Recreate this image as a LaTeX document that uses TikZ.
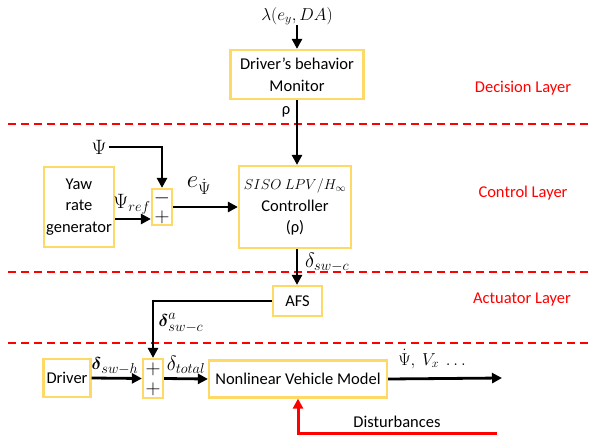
\documentclass[tikz,border=0pt]{standalone}
\usepackage{fontspec}
\setmainfont{Carlito}
\usepackage{amsmath}
\usetikzlibrary{arrows.meta}
\definecolor{boxy}{HTML}{FFD966}
\definecolor{lred}{HTML}{FF0000}
\newcommand{\fsz}{\fontsize{16.5}{21.5}\selectfont}
\newcommand{\msz}{\fontsize{19}{22}\selectfont}
\newcommand{\pmsz}{\fontsize{21}{22}\selectfont}
\tikzset{
  blk/.style={draw=boxy, line width=2.2pt, inner sep=0pt, align=center, font=\fsz},
  arr/.style={line width=2.8pt, -{Triangle[length=10pt,width=10pt]}},
  redarr/.style={draw=lred, line width=3pt, -{Triangle[length=10pt,width=10pt]}},
  layerline/.style={draw=lred, line width=1.3pt, dash pattern=on 8pt off 5pt},
  layertxt/.style={text=lred, font=\fsz},
  lbl/.style={font=\msz, inner sep=0pt},
  sgn/.style={font=\pmsz, inner sep=0pt},
}
\begin{document}
\begin{tikzpicture}[x=1pt,y=-1pt]
\useasboundingbox (0,0) rectangle (591,441);
% layer lines
\draw[layerline] (8,124) -- (591,124);
\draw[layerline] (8,272) -- (591,272);
\draw[layerline] (8,343) -- (591,343);
\node[layertxt] (ldec) at (523,88) {Decision Layer};
\node[layertxt] (lctl) at (523,193) {Control Layer};
\node[layertxt] (lact) at (522,300) {Actuator Layer};
% boxes
\node[blk, minimum width=112pt, minimum height=82pt] (ctrl) at (295,207) {{\fontsize{14.5}{18}\selectfont$SISO\ LPV/H_\infty$}\\Controller\\(ρ)};
\node[blk, minimum width=133pt, minimum height=49pt] (mon) at (297,74.5) {Driver’s behavior\\Monitor};
\node[blk, minimum width=70pt, minimum height=80pt] (yaw) at (79,207) {Yaw\\rate\\generator};
\node[blk, minimum width=20pt, minimum height=36pt] (sum1) at (162,207) {};
\node[sgn] (s1m) at (162,198) {$-$};
\node[sgn] (s1p) at (162,217) {$+$};
\node[blk, minimum width=49pt, minimum height=30pt] (afs) at (297.5,301) {AFS};
\node[blk, minimum width=47pt, minimum height=38pt] (drv) at (67,378) {Driver};
\node[blk, minimum width=20pt, minimum height=39pt] (sum2) at (153,378.5) {};
\node[sgn] (s2a) at (153,369) {$+$};
\node[sgn] (s2b) at (153,389) {$+$};
\node[blk, minimum width=178pt, minimum height=37pt] (veh) at (298,379) {Nonlinear Vehicle Model};
% top input
\node[lbl, font=\fontsize{18}{20}\selectfont] (lam) at (297,16) {$\lambda(e_y, DA)$};
\draw[arr] (lam.south) -- (mon.north);
\draw[arr] (mon.south) -- (mon.south |- ctrl.north);
\node[font=\fsz] (rho) at (286,112) {ρ};
% Psi input
\node[lbl, font=\fontsize{21}{22}\selectfont] (psi) at (99,147) {$\Psi$};
\draw[arr] ([xshift=2pt]psi.east) -| (sum1.north);
\draw[arr] ([yshift=-12pt]yaw.east) -- ([yshift=-12pt]sum1.west);
\node[lbl, font=\fontsize{20}{22}\selectfont] (psiref) at (132,204) {$\Psi_{ref}$};
\draw[arr] (sum1.east) -- (ctrl.west);
\node[lbl, font=\fontsize{26}{28}\selectfont] (eps) at (199,186) {$e_{\dot\Psi}$};
% controller to AFS
\draw[arr] (mon.south |- ctrl.south) -- (mon.south |- afs.north);
\node[lbl, font=\fontsize{20}{22}\selectfont, anchor=west] (dswc) at (305,262) {$\delta_{sw-c}$};
% AFS to sum2
\draw[arr] (afs.west) -| (sum2.north);
\node[lbl] (dswca) at (181,323) {$\boldsymbol{\delta}^{a}_{sw-c}$};
% driver path
\draw[arr] (drv.east) -- (sum2.west);
\node[lbl] (dswh) at (115,366) {$\boldsymbol{\delta}_{sw-h}$};
\draw[arr] (sum2.east) -- (veh.west);
\node[lbl, font=\fontsize{21}{22}\selectfont] (dtot) at (186,365) {$\delta_{total}$};
% output
\coordinate (out) at (502,378);
\draw[arr] (veh.east) -- (out);
\node[lbl, font=\fontsize{17}{20}\selectfont] (outl) at (432,359) {$\dot\Psi,\ V_x\ \ldots$};
% disturbances
\coordinate (dist) at (497,433);
\draw[redarr] (dist) -| (veh.south);
\node[font=\fsz] (distl) at (397,422) {Disturbances};
\end{tikzpicture}
\end{document}
